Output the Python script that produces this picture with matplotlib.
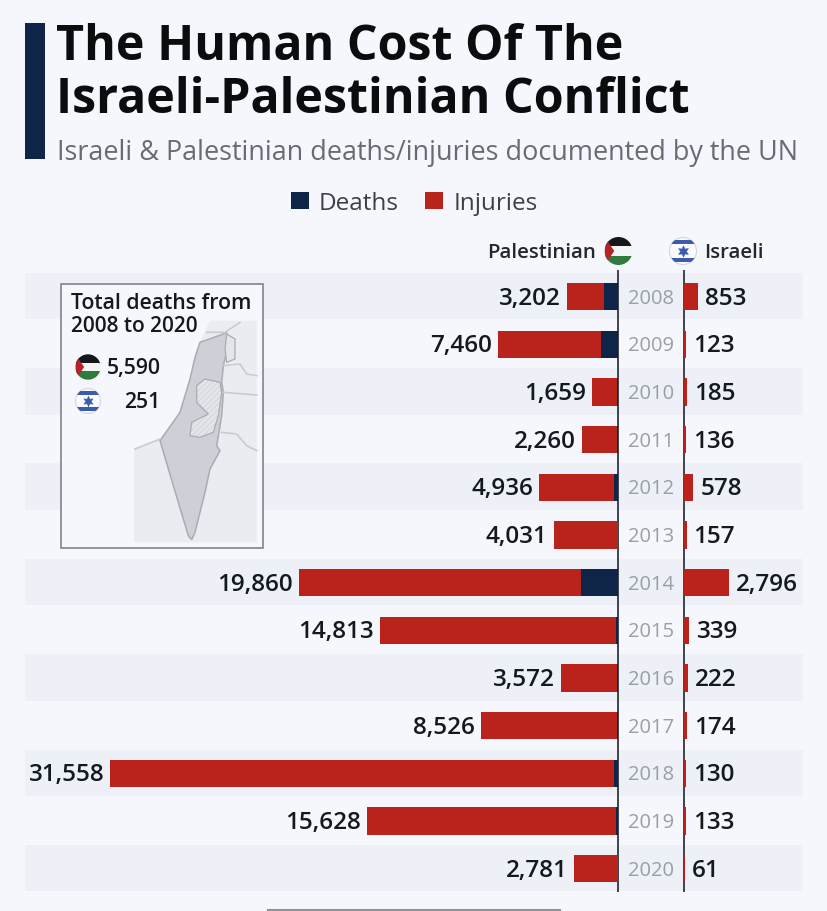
import matplotlib
matplotlib.use("Agg")
import matplotlib.pyplot as plt
from matplotlib.patches import Rectangle, Circle, Polygon, Patch
from matplotlib.lines import Line2D

years = [2008, 2009, 2010, 2011, 2012, 2013, 2014, 2015, 2016, 2017, 2018, 2019, 2020]
pal_total = [3202, 7460, 1659, 2260, 4936, 4031, 19860, 14813, 3572, 8526, 31558, 15628, 2781]
pal_deaths = [870, 1066, 95, 124, 260, 39, 2329, 174, 110, 77, 300, 140, 30]
isr_total = [853, 123, 185, 136, 578, 157, 2796, 339, 222, 174, 130, 133, 61]
total_labels = ["5,590", "251"]

W, H = 828, 912
FONT = "Open Sans"
plt.rcParams["font.family"] = [FONT, "DejaVu Sans"]
plt.rcParams["hatch.linewidth"] = 0.6
BG, BAND = "#f5f7fc", "#edf0f7"
NAVY, RED = "#0e2548", "#b9231c"
INK = "#14181f"
fig = plt.figure(figsize=(W / 100, H / 100), dpi=100, facecolor=BG)

def axes_px(x0, y0, x1, y1, **kw):
    return fig.add_axes([x0 / W, 1 - y1 / H, (x1 - x0) / W, (y1 - y0) / H], **kw)

bg = axes_px(0, 0, W, H)
bg.set_xlim(0, W); bg.set_ylim(H, 0); bg.axis("off")

TOP, STEP = 273.8, 47.67
for i in range(0, len(years), 2):
    bg.add_patch(Rectangle((25, TOP + i * STEP), 778, 46.5, fc=BAND, ec="none"))

# header
bg.add_patch(Rectangle((25, 24), 20, 136, fc=NAVY, ec="none"))
bg.text(56, 60, "The Human Cost Of The", fontsize=34.8, fontweight="bold", color="#0b0c0e", va="baseline")
bg.text(56, 113, "Israeli-Palestinian Conflict", fontsize=34.8, fontweight="bold", color="#0b0c0e", va="baseline")
bg.text(57, 160, "Israeli & Palestinian deaths/injuries documented by the UN", fontsize=19.45, color="#676c74", va="baseline")

# legend
leg = bg.legend(handles=[Patch(fc=NAVY, label="Deaths"), Patch(fc=RED, label="Injuries")],
                loc="center", bbox_to_anchor=(414 / W, 1 - 204 / H), bbox_transform=fig.transFigure,
                ncol=2, frameon=False, fontsize=17.5, labelcolor="#3c4048", handlelength=0.74,
                handleheight=0.72, handletextpad=0.41, columnspacing=1.1, borderpad=0)

def pal_flag(cx, cy, r):
    clip = Circle((cx, cy), r, transform=bg.transData)
    h = 2 * r / 3
    parts = [Rectangle((cx - r, cy - r + k * h), 2 * r, h, fc=c, ec="none")
             for k, c in enumerate(["#15171a", "#f4f4f4", "#2f7a3c"])]
    parts.append(Polygon([(cx - r, cy - r), (cx - r, cy + r), (cx - 0.3 * r, cy)], fc="#b5232a", ec="none"))
    for p in parts:
        bg.add_patch(p); p.set_clip_path(clip)

def isr_flag(cx, cy, r):
    clip = Circle((cx, cy), r, transform=bg.transData)
    parts = [Rectangle((cx - r, cy - 0.82 * r), 2 * r, 0.32 * r, fc="#3b5ca8", ec="none"),
             Rectangle((cx - r, cy + 0.5 * r), 2 * r, 0.32 * r, fc="#3b5ca8", ec="none")]
    bg.add_patch(Circle((cx, cy), r, fc="#fbfbfd", ec="#d3d6de", lw=0.8))
    for p in parts:
        bg.add_patch(p); p.set_clip_path(clip)
    bg.plot([cx], [cy], marker=(6, 1, 0), ms=r * 0.62, mfc="#3b5ca8", mec="#3b5ca8", mew=0.3, ls="none")

bg.text(596, 253, "Palestinian", fontsize=14.7, fontweight=600, color="#23272e", ha="right", va="center")
bg.text(704, 253, "Israeli", fontsize=14.7, fontweight=600, color="#23272e", ha="left", va="center")
pal_flag(618.5, 252, 14)
isr_flag(683, 252, 13.5)

# inset
bg.add_patch(Rectangle((61.5, 285), 201.5, 264, fc=BG, ec="#80848b", lw=1.2))

def z(points):
    return [(x / 3 + 50, y / 3 + 270) for x, y in points]

bg.add_patch(Polygon(z([(252, 540), (330, 510), (400, 420), (450, 220), (480, 155), (620, 155), (620, 820), (252, 820)]),
                     fc="#eaecf2", ec="none"))
israel = [(520, 195), (530, 190), (532, 240), (520, 290), (515, 340), (520, 370), (515, 440), (500, 530), (510, 545),
          (480, 600), (465, 670), (435, 790), (425, 812), (415, 800), (370, 650), (330, 515), (390, 430), (420, 330),
          (435, 265), (450, 220)]
bg.add_patch(Polygon(z(israel), fc="#cdd0d6", ec="#a9acb2", lw=1.1))
west_bank = [(440, 350), (465, 330), (510, 340), (515, 370), (505, 440), (490, 490), (450, 505), (420, 500), (425, 460),
             (475, 435), (440, 400)]
bg.add_patch(Polygon(z(west_bank), fc="#e3e5ea", ec="#d0d3d8", lw=0, hatch="//////"))
bg.add_patch(Polygon(z(west_bank), fc="none", ec="#a9acb2", lw=0.9))
golan = [(530, 195), (555, 210), (555, 270), (530, 280), (525, 240)]
bg.add_patch(Polygon(z(golan), fc="#e3e5ea", ec="#a9acb2", lw=0.9))
for line in ([(520, 290), (570, 285), (590, 315), (620, 320)], [(520, 370), (620, 378)],
             [(515, 490), (560, 495), (590, 530), (620, 545)], [(255, 540), (330, 510)],
             [(470, 190), (525, 190), (570, 160)]):
    xs, ys = zip(*z(line))
    bg.plot(xs, ys, color="#c8cbd1", lw=1.2)

bg.text(71, 304, "Total deaths from", fontsize=15.3, fontweight=600, color=INK, va="center")
bg.text(71, 327, "2008 to 2020", fontsize=15, fontweight=600, color=INK, va="center")
pal_flag(88, 368, 12.7)
isr_flag(88, 402, 12.5)
bg.text(161, 369, total_labels[0], fontsize=15.3, fontweight=600, color=INK, ha="right", va="center")
bg.text(160, 403, total_labels[1], fontsize=15.3, fontweight=600, color=INK, ha="right", va="center")

# bars
SCALE = 0.01611
LX0, LX1, RX0, RX1 = 25.0, 618.5, 684.0, 803.0
BOTTOM = TOP + STEP * len(years)
left = axes_px(LX0, TOP, LX1, BOTTOM, facecolor="none")
right = axes_px(RX0, TOP, RX1, BOTTOM, facecolor="none")
left.set_xlim((LX1 - LX0) / SCALE, 0)
right.set_xlim(0, (RX1 - RX0) / SCALE)
rows = list(range(len(years)))
pal_inj = [t - d for t, d in zip(pal_total, pal_deaths)]
for ax in (left, right):
    ax.set_ylim(len(years) - 0.5, -0.5)
    ax.axis("off")

BH = 0.57
left.barh(rows, pal_deaths, height=BH, color=NAVY)
left.barh(rows, pal_inj, left=pal_deaths, height=BH, color=RED)
right.barh(rows, isr_total, height=BH, color=RED)
for r, v in zip(rows, pal_total):
    left.annotate(f"{v:,}", (v, r), xytext=(-6, -1), textcoords="offset pixels", ha="right", va="center",
                  fontsize=17.5, fontweight=600, color=INK, annotation_clip=False)
for r, v in zip(rows, isr_total):
    right.annotate(f"{v:,}", (v, r), xytext=(7, -1), textcoords="offset pixels", ha="left", va="center",
                   fontsize=17.5, fontweight=600, color=INK, annotation_clip=False)
for r, y in zip(rows, years):
    bg.text(651, TOP + STEP * (r + 0.5) + 1, str(y), fontsize=14.5, color="#9a9ea6", ha="center", va="center")

for x in (LX1, RX0):
    bg.add_line(Line2D([x, x], [272, 892], color="#3f434b", lw=1.4, zorder=5))
bg.add_line(Line2D([268, 560], [911, 911], color="#8f9298", lw=1.5))

fig.savefig("out.png", dpi=100, facecolor=BG)
